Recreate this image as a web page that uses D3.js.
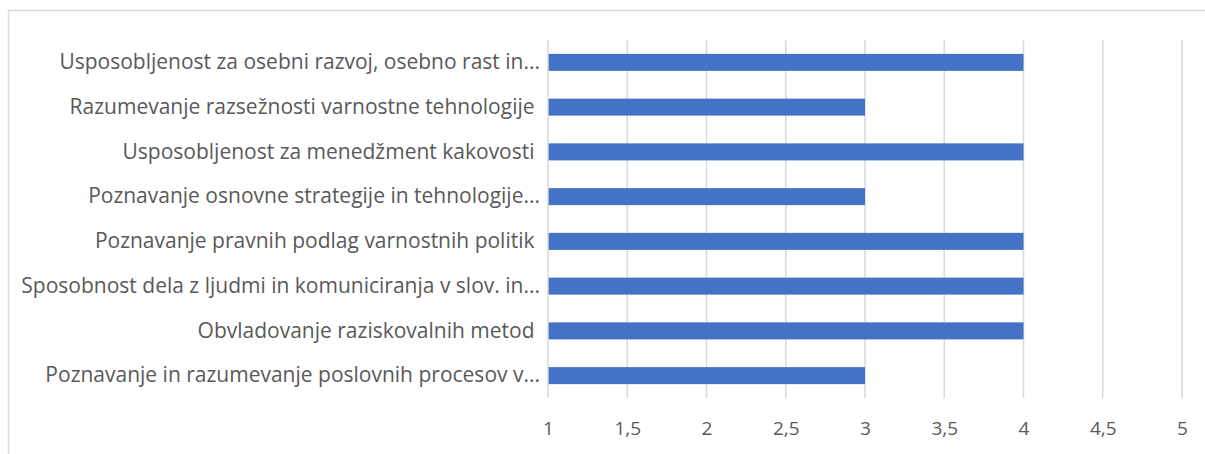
<!DOCTYPE html>
<html>
<head>
<meta charset="utf-8">
<script src="https://cdn.jsdelivr.net/npm/d3@7"></script>
<style>
  body { margin: 0; background: #fff; }
  svg text { font-family: "Open Sans", sans-serif; fill: #595959; white-space: pre; }
</style>
</head>
<body>
<svg id="chart" width="1205" height="454"></svg>
<script>
var categories = [
  'Usposobljenost za osebni razvoj, osebno rast in...',
  'Razumevanje razsežnosti varnostne tehnologije ',
  'Usposobljenost za menedžment kakovosti ',
  'Poznavanje osnovne strategije in tehnologije...',
  'Poznavanje pravnih podlag varnostnih politik ',
  'Sposobnost dela z ljudmi in komuniciranja v slov. in...',
  'Obvladovanje raziskovalnih metod ',
  'Poznavanje in razumevanje poslovnih procesov v...'
];
var values = [4, 3, 4, 3, 4, 4, 4, 3];
var tickValues = [1, 1.5, 2, 2.5, 3, 3.5, 4, 4.5, 5];

var svg = d3.select('#chart');

// outer frame, runs off the right and bottom like the screenshot
svg.append('rect')
  .attr('x', 8.5).attr('y', 10.5)
  .attr('width', 1220).attr('height', 460)
  .attr('fill', 'none')
  .attr('stroke', '#d9d9d9')
  .attr('stroke-width', 1.5);

var margin = { left: 548, right: 23, top: 40, bottom: 56 };
var innerW = 1205 - margin.left - margin.right;
var innerH = 454 - margin.top - margin.bottom;

var g = svg.append('g')
  .attr('transform', 'translate(' + margin.left + ',' + margin.top + ')');

var x = d3.scaleLinear().domain([1, 5]).range([0, innerW]);
var y = d3.scaleBand().domain(categories).range([0, innerH]).paddingInner(0.62).paddingOuter(0.31);

// vertical gridlines
g.append('g')
  .selectAll('line')
  .data(tickValues.slice(1)).enter()
  .append('line')
  .attr('x1', function (d) { return x(d); })
  .attr('x2', function (d) { return x(d); })
  .attr('y1', 0).attr('y2', innerH)
  .attr('stroke', '#d9d9d9')
  .attr('stroke-width', 1.5);

// bars
g.append('g')
  .selectAll('rect')
  .data(values).enter()
  .append('rect')
  .attr('x', x(1))
  .attr('y', function (d, i) { return y(categories[i]); })
  .attr('width', function (d) { return x(d) - x(1); })
  .attr('height', y.bandwidth())
  .attr('fill', '#4472c4');

// category axis line
g.append('line')
  .attr('x1', 0).attr('x2', 0)
  .attr('y1', 0).attr('y2', innerH)
  .attr('stroke', '#d9d9d9')
  .attr('stroke-width', 1.5);

var fmt = function (d) { return String(d).replace('.', ','); };

var xAxis = d3.axisBottom(x).tickValues(tickValues).tickFormat(fmt).tickSize(0).tickPadding(24);
var xg = g.append('g')
  .attr('transform', 'translate(0,' + innerH + ')')
  .call(xAxis);
xg.select('.domain').remove();
xg.selectAll('text').style('font-size', '19px').attr('fill', '#595959');

var yAxis = d3.axisLeft(y).tickSize(0).tickPadding(8);
var yg = g.append('g').call(yAxis);
yg.select('.domain').remove();
yg.selectAll('text').style('font-size', '21px').attr('fill', '#595959');
</script>
</body>
</html>
